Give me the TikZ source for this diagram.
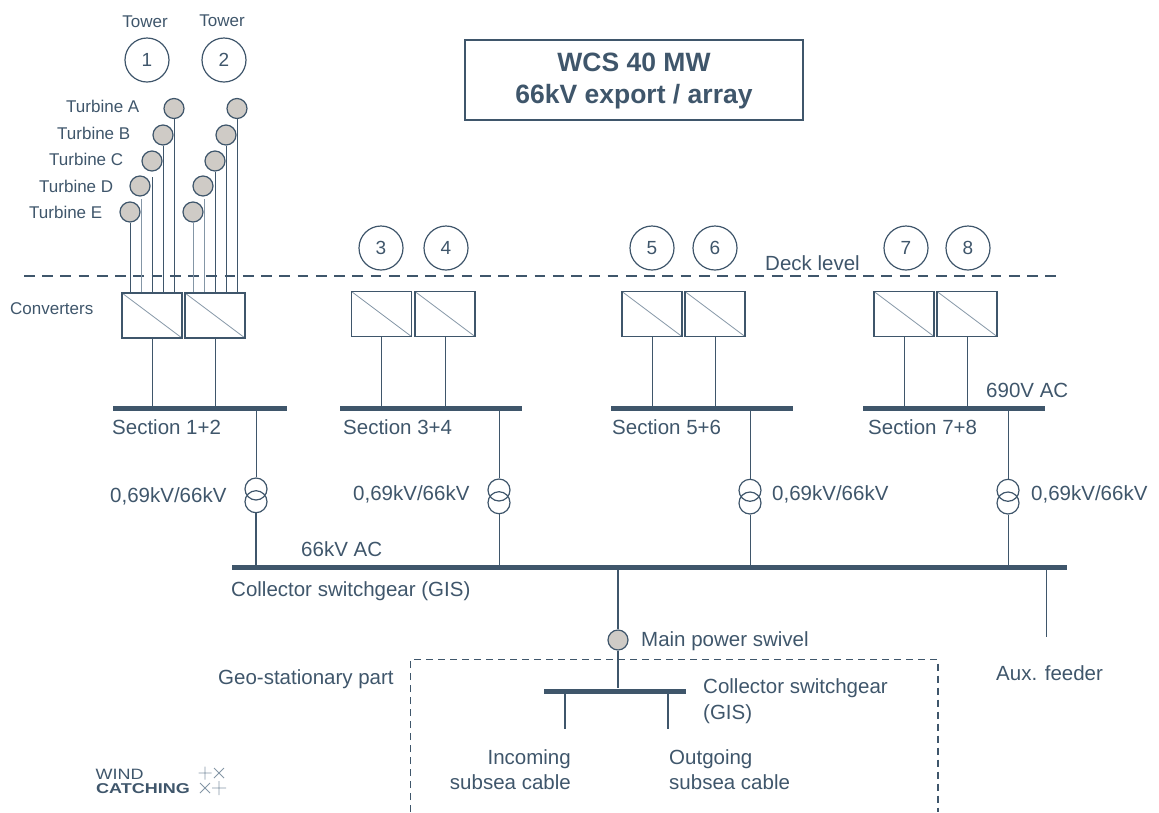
\documentclass[tikz,border=0pt]{standalone}
\usepackage{fontspec}
\setmainfont{Liberation Sans}
\definecolor{ink}{HTML}{3F566B}
\definecolor{inksoft}{HTML}{8496A6}
\definecolor{disc}{HTML}{CFCBC6}
\tikzset{
  txt/.style={text=ink,inner sep=0pt,anchor=base west,font=\fontsize{20.5}{22}\selectfont},
  small/.style={txt,font=\fontsize{17}{20}\selectfont},
  towerc/.style={circle,draw=ink,line width=1.2pt,minimum size=44pt,inner sep=0pt,text=ink,font=\fontsize{19}{20}\selectfont},
  turb/.style={circle,draw=ink,fill=disc,line width=1.2pt,minimum size=20pt,inner sep=0pt},
  conv/.style={rectangle,draw=ink,line width=1.2pt,minimum width=60pt,minimum height=45pt,inner sep=0pt,
    path picture={\draw[inksoft,line width=.8pt] (path picture bounding box.north west)--(path picture bounding box.south east);}},
  busbar/.style={rectangle,fill=ink,minimum height=5pt,inner sep=0pt},
  wire/.style={draw=ink,line width=.8pt},
  trafoc/.style={circle,draw=ink,line width=1.2pt,minimum size=22pt,inner sep=0pt},
  heavy/.style={draw=ink,line width=2.6pt},
}
\begin{document}
\begin{tikzpicture}[x=1pt,y=-1pt]
\useasboundingbox (0,0) rectangle (1159,812);
% title
\node[rectangle,draw=ink,line width=1.1pt,minimum width=338pt,minimum height=80pt,inner sep=0pt] (title) at (634,80) {};
\node[text=ink,inner sep=0pt,font=\fontsize{26.5}{30}\selectfont\bfseries] (title1) at (634,62) {WCS 40 MW};
\node[text=ink,inner sep=0pt,font=\fontsize{26.5}{30}\selectfont\bfseries] (title2) at (634,97) {66kV export / array};
% towers
\node[small,anchor=base] (lt1) at (145,27) {Tower};
\node[small,anchor=base] (lt2) at (222,26) {Tower};
\foreach \n/\x/\y in {1/147/60,2/224/60,3/381/248,4/446/248,5/652/248,6/715/248,7/906/248,8/968/248}
  \node[towerc] (tw\n) at (\x,\y) {\n};
% deck level
\coordinate (deckL) at (24,276);
\coordinate (deckR) at (1056,276);
\draw[draw=ink,line width=2.4pt,dash pattern=on 10.7pt off 7.54pt] (deckL) -- (deckR);
\node[txt] (deck) at (765,270.5) {Deck level};
% converters
\node[conv] (cv1) at (152,315.5) {};
\node[conv] (cv2) at (215,315.5) {};
\node[conv] (cv3) at (381.5,314) {};
\node[conv] (cv4) at (445,314) {};
\node[conv] (cv5) at (652,314) {};
\node[conv] (cv6) at (715,314) {};
\node[conv] (cv7) at (904,314) {};
\node[conv] (cv8) at (967,314) {};
\node[small] (lconv) at (10,314) {Converters};
% turbines
\foreach \n/\x/\y in {A/174/108.5,B/163/135,C/152/161,D/140/186,E/130/212}
  \node[turb] (ta\n) at (\x,\y) {};
\foreach \n/\x/\y in {A/237/108.5,B/226/135,C/215/161,D/203/186,E/193/212}
  \node[turb] (tb\n) at (\x,\y) {};
\node[small] (la) at (66,112) {Turbine A};
\node[small] (lb) at (57,139) {Turbine B};
\node[small] (lc) at (49,165) {Turbine C};
\node[small] (ld) at (39,192) {Turbine D};
\node[small] (le) at (29,218) {Turbine E};
\coordinate (d1) at (141,199);
\coordinate (c1) at (152,177);
\coordinate (d2) at (204,199);
\draw[wire] (taA.south) -- (taA.south |- cv1.north);
\draw[wire] (taB.south) -- (taB.south |- cv1.north);
\draw[wire] (c1) -- (c1 |- cv1.north);
\draw[wire,draw=inksoft] (d1) -- (d1 |- cv1.north);
\draw[wire] (taE.south) -- (taE.south |- cv1.north);
\draw[wire] (tbA.south) -- (tbA.south |- cv2.north);
\draw[wire] (tbB.south) -- (tbB.south |- cv2.north);
\draw[wire] (tbC.south) -- (tbC.south |- cv2.north);
\draw[wire,draw=inksoft] (d2) -- (d2 |- cv2.north);
\draw[wire,draw=inksoft] (tbE.south) -- (tbE.south |- cv2.north);
% section buses
\node[busbar,minimum width=174pt] (b12) at (200,408.5) {};
\node[busbar,minimum width=182pt] (b34) at (431,408.5) {};
\node[busbar,minimum width=182pt] (b56) at (702,408.5) {};
\node[busbar,minimum width=182pt] (b78) at (954,408.5) {};
\foreach \c/\b in {1/b12,2/b12,3/b34,4/b34,5/b56,6/b56,7/b78,8/b78}
  \draw[wire] (cv\c.south) -- (cv\c.south |- \b.north);
\node[txt] (s12) at (112,434) {Section 1+2};
\node[txt] (s34) at (343,434) {Section 3+4};
\node[txt] (s56) at (612,434) {Section 5+6};
\node[txt] (s78) at (868,434) {Section 7+8};
\node[txt] (v690) at (986,397.5) {690V AC};
% collector bus
\node[busbar,minimum width=835pt] (coll) at (649.5,567.5) {};
\node[txt] (v66) at (301,556) {66kV AC};
\node[txt] (lcoll) at (231,596) {Collector switchgear (GIS)};
% transformers
\foreach \k/\x/\b/\ya/\yb/\lw in {1/256/b12/489/501.7/1.6,2/499/b34/490/502.7/.8,3/750/b56/490.3/503/.8,4/1008/b78/490.3/503/.8}{
  \node[trafoc] (tu\k) at (\x,\ya) {};
  \node[trafoc] (tl\k) at (\x,\yb) {};
  \draw[wire] (tu\k.north |- \b.south) -- (tu\k.north);
  \draw[wire,line width=\lw pt] (tl\k.south) -- (tl\k.south |- coll.north);
}
\node[txt] (r1) at (110,502) {0,69kV/66kV};
\node[txt] (r2) at (353,500.5) {0,69kV/66kV};
\node[txt] (r3) at (772,500.5) {0,69kV/66kV};
\node[txt] (r4) at (1031,500.5) {0,69kV/66kV};
% aux
\coordinate (aux) at (1046,637);
\draw[wire] (aux |- coll.south) -- (aux);
\node[txt] (laux) at (996,680) {Aux. feeder};
% swivel
\node[turb] (sw) at (618,640) {};
\node[txt] (lsw) at (641,646) {Main power swivel};
\node[busbar,minimum width=142pt] (low) at (615,691) {};
\draw[heavy] (sw.north |- coll.south) -- (sw.north);
\draw[heavy] (sw.south) -- (sw.south |- low.north);
\coordinate (ina) at (565,729);
\coordinate (outa) at (668,729);
\draw[heavy] (ina |- low.south) -- (ina);
\draw[heavy] (outa |- low.south) -- (outa);
\node[txt] (lc1) at (703,693) {Collector switchgear};
\node[txt] (lc2) at (703,719) {(GIS)};
\node[txt,anchor=base east] (li1) at (571,764) {Incoming};
\node[txt,anchor=base east] (li2) at (571,789) {subsea cable};
\node[txt] (lo1) at (669,764) {Outgoing};
\node[txt] (lo2) at (669,789) {subsea cable};
% geo-stationary boundary
\coordinate (g1) at (410.5,812);
\coordinate (g2) at (410.5,659.5);
\coordinate (g3) at (938,659.5);
\coordinate (g4) at (938,812);
\draw[draw=ink,line width=1.2pt,dash pattern=on 7pt off 5pt] (g1) -- (g2) -- (g3) -- (g4);
\node[txt] (lgeo) at (218,684) {Geo-stationary part};
% logo
\node[txt,anchor=base west,font=\fontsize{15}{16}\selectfont] (w) at (95.5,779) {\scalebox{1.2}[1]{WIND}};
\node[txt,anchor=base west,font=\fontsize{15}{16}\selectfont\bfseries] (c) at (96,793) {\scalebox{1.2}[.95]{CATCHING}};
\draw[draw=inksoft,line width=.9pt]
  (198.5,773)--(211.5,773) (205,766.5)--(205,779.5)
  (214,768)--(224,778) (214,778)--(224,768)
  (200,783)--(210,793) (200,793)--(210,783)
  (212,788)--(226,788) (219,781)--(219,795);
\end{tikzpicture}
\end{document}
